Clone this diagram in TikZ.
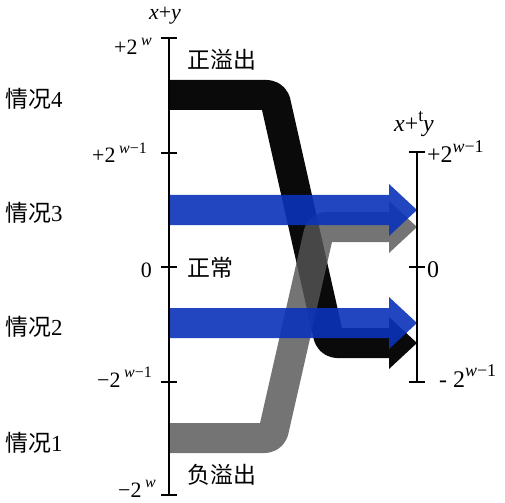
\documentclass[tikz,border=0pt]{standalone}
\usepackage{fontspec}
\setmainfont{Liberation Serif}
\newfontfamily\cjk{Noto Sans CJK SC}
\definecolor{bandblack}{RGB}{10,10,10}
\definecolor{bandgray}{RGB}{85,85,85}
\definecolor{bandblue}{RGB}{10,50,185}
\newcommand\supx[1]{\raisebox{0.42em}{\fontsize{16}{16}\selectfont #1}}
\newcommand\supy[1]{\raisebox{0.42em}{\fontsize{18}{18}\selectfont #1}}
\begin{document}
\begin{tikzpicture}[x=1bp,y=-1bp,
  axisline/.style={line width=1.6bp,black},
  tickmark/.style={line width=1.4bp,black},
  numlabel/.style={inner sep=0pt,font=\fontsize{22}{24}\selectfont},
  rnumlabel/.style={inner sep=0pt,font=\fontsize{24}{26}\selectfont},
  caselabel/.style={inner sep=0pt,anchor=west,font=\fontsize{23}{26}\selectfont},
  zonelabel/.style={inner sep=0pt,anchor=west,font=\cjk\fontsize{23}{26}\selectfont},
  axistitle/.style={inner sep=0pt,anchor=base,font=\fontsize{22}{24}\selectfont},
  bandline/.style={line width=30bp,rounded corners=7bp,line cap=butt,line join=round},
]
\useasboundingbox (0,0) rectangle (505,503);

% axis coordinates
\coordinate (Ltop) at (169,38);
\coordinate (Lp1) at (169,153);
\coordinate (L0) at (169,267);
\coordinate (Lm1) at (169,382);
\coordinate (Lbot) at (169,495);
\coordinate (Rtop) at (417,152);
\coordinate (R0) at (417,267);
\coordinate (Rbot) at (417,382);

% black band (case 4, positive overflow)
\coordinate (k0) at (169,95);
\coordinate (k1) at (274,95);
\coordinate (k2) at (330,343);
\coordinate (k3) at (389,343);
\coordinate (kt) at (417,343);
\draw[bandline,draw=bandblack] (k0) -- (k1) -- (k2) -- (k3);
\fill[bandblack] (kt) -- ++(-28,-26) -- ++(0,52) -- cycle;

% gray band (case 1, negative overflow)
\coordinate (g0) at (169,438);
\coordinate (g1) at (272,438);
\coordinate (g2) at (320,227);
\coordinate (g3) at (389,227);
\coordinate (gt) at (417,227);
\begin{scope}[opacity=0.82,transparency group]
\draw[bandline,draw=bandgray] (g0) -- (g1) -- (g2) -- (g3);
\fill[bandgray] (gt) -- ++(-28,-26) -- ++(0,52) -- cycle;
\end{scope}

% blue bands (cases 3 and 2, normal)
\coordinate (u0) at (169,210);
\coordinate (u1) at (389,210);
\coordinate (ut) at (417,210);
\coordinate (v0) at (169,323);
\coordinate (v1) at (389,323);
\coordinate (vt) at (417,323);
\begin{scope}[opacity=0.9,transparency group]
\draw[bandline,draw=bandblue] (u0) -- (u1);
\fill[bandblue] (ut) -- ++(-28,-26) -- ++(0,52) -- cycle;
\end{scope}
\begin{scope}[opacity=0.9,transparency group]
\draw[bandline,draw=bandblue] (v0) -- (v1);
\fill[bandblue] (vt) -- ++(-28,-26) -- ++(0,52) -- cycle;
\end{scope}

% axes
\draw[axisline] (Ltop) -- (Lbot);
\draw[axisline] (Rtop) -- (Rbot);
\foreach \c in {Ltop,Lp1,L0,Lm1,Lbot,Rtop,R0,Rbot}
  \draw[tickmark] ([xshift=-8bp]\c) -- ([xshift=8bp]\c);

% axis titles
\node[axistitle] (tl) at (165,20) {\textit{x}+\textit{y}};
\node[axistitle,font=\fontsize{24}{26}\selectfont] (tr) at (414,132) {\textit{x}+\supy{t}\textit{y}};

% left value labels
\node[numlabel,anchor=base east] (a1) at (152,55) {+2\,\supx{\textit{w}}};
\node[numlabel,anchor=base east] (a2) at (147,163) {+2\,\supx{\textit{w}−1}};
\node[numlabel,anchor=base east] (a3) at (152,277) {0};
\node[numlabel,anchor=base east] (a4) at (152,387) {−2\,\supx{\textit{w}−1}};
\node[numlabel,anchor=base east] (a5) at (156,497) {−2\,\supx{\textit{w}}};

% right value labels
\node[rnumlabel,anchor=base west] (b1) at (427,163) {+2\supy{\textit{w}−1}};
\node[rnumlabel,anchor=base west] (b2) at (427,277) {0};
\node[rnumlabel,anchor=base west] (b3) at (439,387) {- 2\supy{\textit{w}−1}};

% case labels
\node[caselabel] (c4) at (5,99) {{\cjk 情况}4};
\node[caselabel] (c3) at (5,213) {{\cjk 情况}3};
\node[caselabel] (c2) at (5,327) {{\cjk 情况}2};
\node[caselabel] (c1) at (5,443) {{\cjk 情况}1};

% zone labels
\node[zonelabel] (z1) at (187,60) {正溢出};
\node[zonelabel] (z2) at (187,268) {正常};
\node[zonelabel] (z3) at (187,475) {负溢出};
\end{tikzpicture}
\end{document}
